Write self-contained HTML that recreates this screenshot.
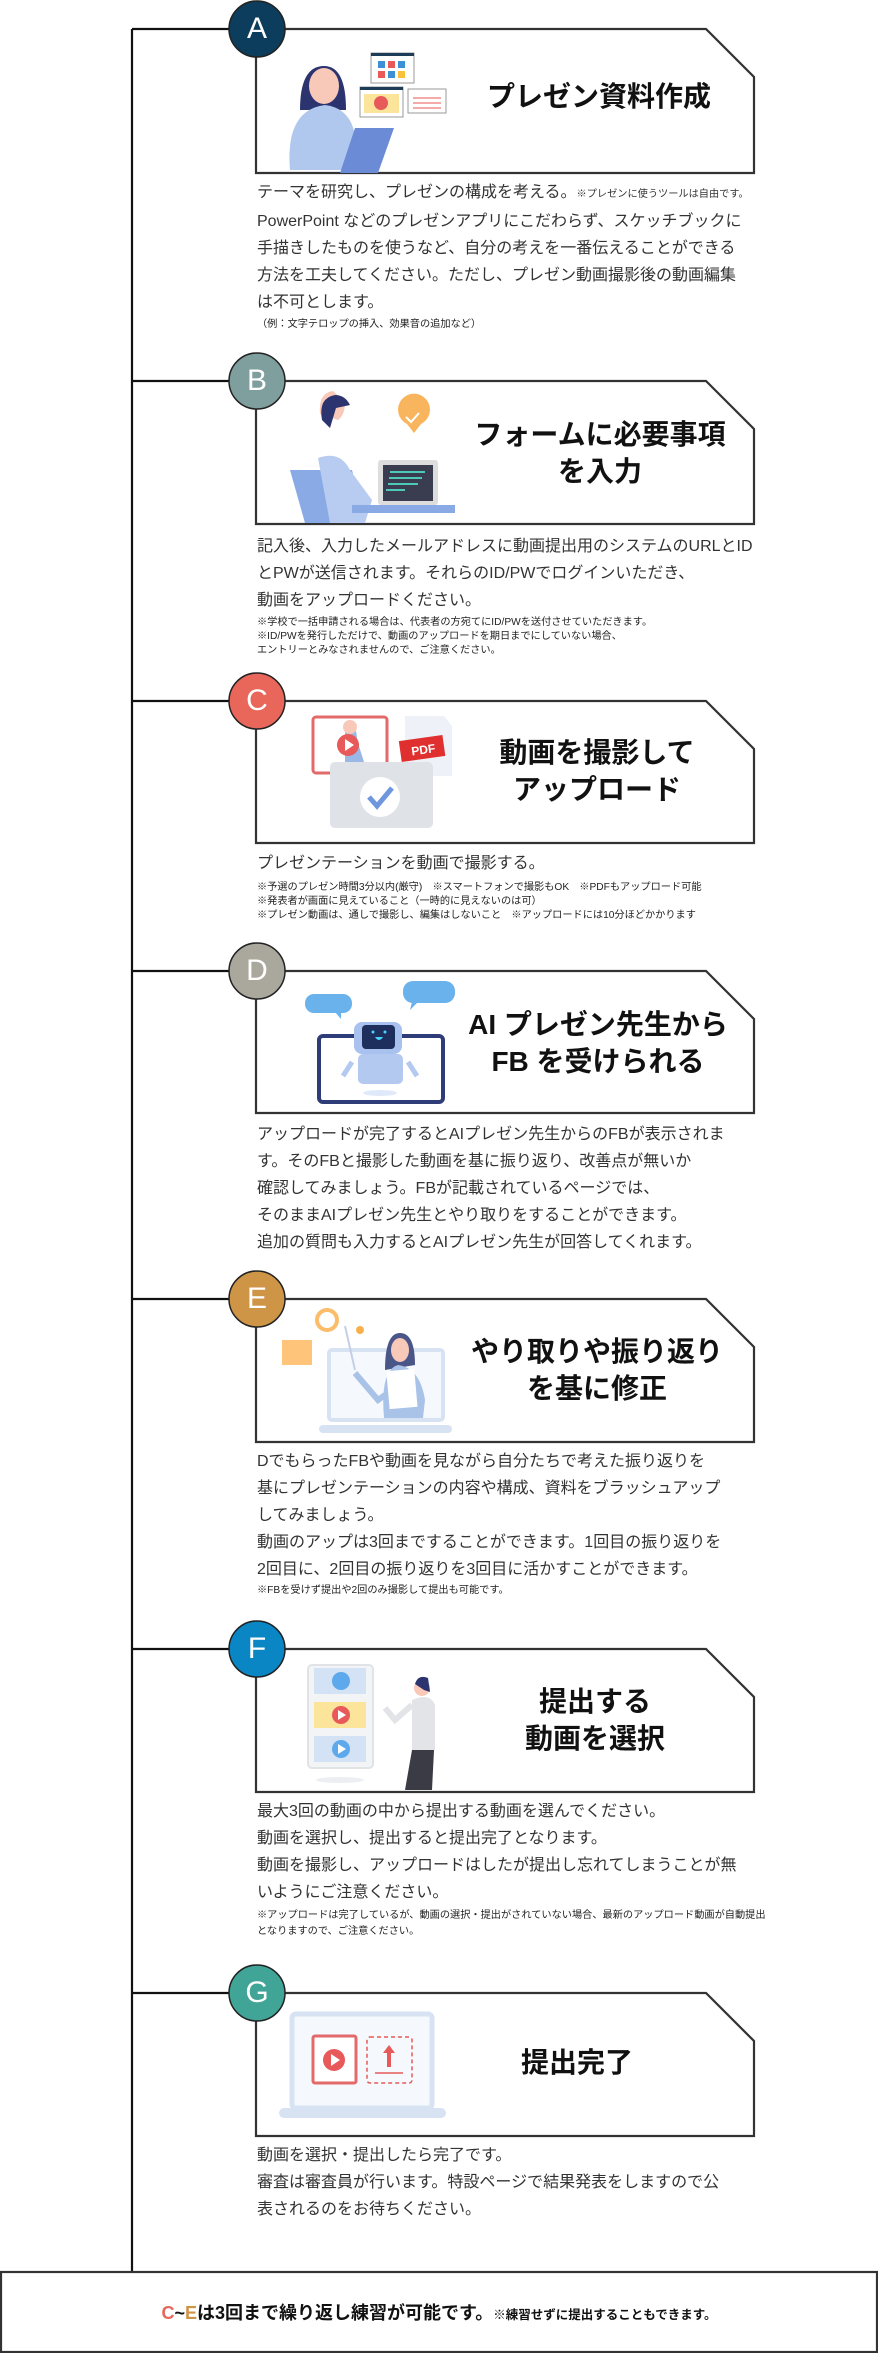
<!DOCTYPE html>
<html><head><meta charset="utf-8">
<style>
html,body{margin:0;padding:0;background:#fff;}
body{width:878px;height:2353px;position:relative;overflow:hidden;font-family:"Liberation Sans","Noto Sans CJK JP",sans-serif;color:#222;}
svg{position:absolute;left:0;top:0;}
.t{position:absolute;white-space:nowrap;font-weight:bold;font-size:28px;line-height:37px;text-align:center;color:#111;width:300px;}
.b{position:absolute;left:257px;white-space:nowrap;font-size:16px;line-height:27px;color:#333;}
.n{position:absolute;left:257px;white-space:nowrap;font-size:10.2px;line-height:14px;color:#222;}
.s{font-size:10.2px;}
.L{position:absolute;width:56px;text-align:center;color:#fff;font-size:30px;line-height:56px;font-weight:normal;}
</style></head><body>
<svg width="878" height="2353" viewBox="0 0 878 2353">
<g fill="none" stroke="#111" stroke-width="2.2">
<line x1="132" y1="29" x2="132" y2="2272"/>
<line x1="132" y1="29" x2="256" y2="29"/>
<line x1="132" y1="381" x2="256" y2="381"/>
<line x1="132" y1="701" x2="256" y2="701"/>
<line x1="132" y1="971" x2="256" y2="971"/>
<line x1="132" y1="1299" x2="256" y2="1299"/>
<line x1="132" y1="1649" x2="256" y2="1649"/>
<line x1="132" y1="1993" x2="256" y2="1993"/>
</g>
<g fill="#fff" stroke="#333" stroke-width="2.2">
<path d="M256,29H706L754,77V173H256Z"/>
<path d="M256,381H706L754,429V524H256Z"/>
<path d="M256,701H706L754,749V843H256Z"/>
<path d="M256,971H706L754,1019V1113H256Z"/>
<path d="M256,1299H706L754,1347V1442H256Z"/>
<path d="M256,1649H706L754,1697V1792H256Z"/>
<path d="M256,1993H706L754,2041V2136H256Z"/>
<rect x="1" y="2272" width="876" height="80"/>
</g>
<g stroke="#222" stroke-width="1.5">
<ellipse cx="257" cy="29" rx="28" ry="28" fill="#0d3d5c"/>
<ellipse cx="257" cy="381" rx="28" ry="28" fill="#7f9e9e"/>
<ellipse cx="257" cy="701" rx="28" ry="28" fill="#e8675a"/>
<ellipse cx="257" cy="971" rx="28" ry="28" fill="#aaa89c"/>
<ellipse cx="257" cy="1299" rx="28" ry="28" fill="#cf9547"/>
<ellipse cx="257" cy="1649" rx="28" ry="28" fill="#0a86c4"/>
<ellipse cx="257" cy="1993" rx="28" ry="28" fill="#40a597"/>
</g>
<g>
<rect x="371" y="53" width="43" height="30" fill="#fff" stroke="#999"/><rect x="371" y="53" width="43" height="3" fill="#1d3c57"/>
<rect x="378" y="61" width="7" height="7" fill="#3d8fd6"/><rect x="388" y="61" width="7" height="7" fill="#e85a5a"/><rect x="398" y="61" width="7" height="7" fill="#3d8fd6"/>
<rect x="378" y="71" width="7" height="7" fill="#e85a5a"/><rect x="388" y="71" width="7" height="7" fill="#3d8fd6"/><rect x="398" y="71" width="7" height="7" fill="#f7c23b"/>
<rect x="360" y="87" width="43" height="30" fill="#fff" stroke="#999"/><rect x="360" y="87" width="43" height="3" fill="#1d3c57"/><rect x="364" y="94" width="35" height="19" fill="#fce59a"/><circle cx="381" cy="103" r="7" fill="#e85a5a"/>
<rect x="408" y="89" width="38" height="24" fill="#fff" stroke="#999"/><rect x="413" y="97" width="28" height="2" fill="#f6a9a9"/><rect x="413" y="102" width="28" height="2" fill="#f6a9a9"/><rect x="413" y="107" width="28" height="2" fill="#f6a9a9"/>
<path d="M300,110 Q300,66 324,66 Q346,66 346,110Z" fill="#2c3470"/>
<ellipse cx="324" cy="86" rx="15" ry="18" fill="#f8c8b8"/>
<path d="M290,170 Q285,110 325,105 Q350,108 355,135 L345,170Z" fill="#b0c8ee"/>
<path d="M355,128 L394,128 L378,173 L340,173Z" fill="#6b8bd6"/>
</g>
<g>
<path d="M407,424 a16,16 0 1,1 14,0 l-7,9z" fill="#f8b55d"/><path d="M406,417 l5,5 l8,-9" stroke="#fff" stroke-width="2" fill="none"/>
<path d="M345,402 Q345,415 338,420 L320,414 Q318,393 333,391Z" fill="#f8c8b8"/>
<path d="M322,420 Q318,398 335,395 Q345,395 350,405 L336,408 L330,428Z" fill="#2c3470"/>
<path d="M290,470 L352,470 L365,523 L305,523Z" fill="#8aaae6"/>
<path d="M318,458 Q340,450 350,470 L372,500 L365,523 L330,523Z" fill="#b8ccf2"/>
<rect x="378" y="460" width="60" height="45" rx="3" fill="#ddd"/><rect x="383" y="465" width="50" height="36" fill="#3a3d4f"/>
<g stroke="#4ec9b7" stroke-width="2"><line x1="390" y1="472" x2="425" y2="472"/><line x1="389" y1="478" x2="422" y2="478"/><line x1="388" y1="484" x2="418" y2="484"/><line x1="386" y1="490" x2="405" y2="490"/></g>
<rect x="352" y="505" width="103" height="8" fill="#8aaae6"/>
</g>
<g>
<rect x="313" y="717" width="74" height="56" rx="3" fill="#fff" stroke="#e36a6a" stroke-width="3"/>
<path d="M405,716 L444,716 L452,726 L452,776 L405,776Z" fill="#eef1f7"/>
<rect x="400" y="738" width="44" height="21" fill="#e02f2f" transform="rotate(-8 422 748)"/>
<text x="411" y="754" font-family="Liberation Sans" font-weight="bold" font-size="12" fill="#fff" transform="rotate(-8 422 748)">PDF</text>
<path d="M345,725 Q357,722 357,740 L365,765 L345,765Z" fill="#9ab8e6"/>
<circle cx="350" cy="727" r="7" fill="#f8c8b8"/>
<circle cx="348" cy="745" r="11" fill="#e85a5a"/><path d="M345,739 L354,745 L345,751Z" fill="#fff"/>
<rect x="330" y="762" width="103" height="66" rx="5" fill="#dfe2e6"/>
<circle cx="380" cy="797" r="20" fill="#fff"/><path d="M369,797 L377,806 L392,788" stroke="#6f97de" stroke-width="5" fill="none"/>
</g>
<g>
<rect x="305" y="994" width="47" height="19" rx="9" fill="#6ab2ec"/><path d="M335,1012 l6,7 l0,-7z" fill="#6ab2ec"/>
<rect x="403" y="981" width="52" height="22" rx="10" fill="#6ab2ec"/><path d="M412,1002 l-2,8 l8,-8z" fill="#6ab2ec"/>
<rect x="319" y="1036" width="124" height="66" rx="4" fill="#fff" stroke="#2e3d78" stroke-width="4"/>
<rect x="354" y="1022" width="48" height="32" rx="8" fill="#a8c1ee"/>
<rect x="362" y="1025" width="33" height="24" rx="4" fill="#1e2f5e"/>
<circle cx="373" cy="1032" r="1.5" fill="#4ad2ff"/><circle cx="385" cy="1032" r="1.5" fill="#4ad2ff"/><path d="M375,1037 q4,6 8,0z" fill="#4ad2ff"/>
<rect x="358" y="1054" width="45" height="30" rx="5" fill="#b4c9f0"/>
<path d="M352,1062 L343,1076 M408,1062 L417,1076" stroke="#b4c9f0" stroke-width="5"/>
<ellipse cx="380" cy="1093" rx="17" ry="3" fill="#e0e9fa"/>
</g>
<g>
<rect x="282" y="1340" width="30" height="25" fill="#fdc47a"/>
<circle cx="327" cy="1320" r="10" fill="none" stroke="#fbbd6a" stroke-width="4"/>
<circle cx="360" cy="1330" r="4" fill="#f8b04a"/>
<rect x="329" y="1350" width="114" height="70" rx="3" fill="#f5f8fd" stroke="#d7e3f2" stroke-width="4"/>
<rect x="319" y="1425" width="133" height="8" rx="4" fill="#d7e3f2"/>
<path d="M345,1326 L355,1370" stroke="#c6cfe8" stroke-width="2"/>
<path d="M385,1370 Q385,1333 400,1333 Q415,1333 415,1365Z" fill="#4b5688"/>
<ellipse cx="400" cy="1350" rx="9" ry="12" fill="#f8c8b8"/>
<path d="M384,1418 Q380,1370 398,1365 Q420,1368 425,1400 L423,1418Z" fill="#a9c2e8"/>
<path d="M355,1373 L378,1400 L385,1395" stroke="#a9c2e8" stroke-width="6" fill="none"/>
<rect x="388" y="1370" width="28" height="38" fill="#fff" transform="rotate(-5 402 1390)"/>
</g>
<g>
<rect x="308" y="1665" width="65" height="103" rx="4" fill="#f3f4f6" stroke="#e1e3e7" stroke-width="2"/>
<rect x="314" y="1668" width="52" height="26" fill="#d3e2f4"/><circle cx="341" cy="1681" r="9" fill="#5ea9ec"/>
<rect x="314" y="1702" width="52" height="26" fill="#fce59a"/><circle cx="341" cy="1715" r="9" fill="#e85a5a"/><path d="M338,1710 L346,1715 L338,1720Z" fill="#fff"/>
<rect x="314" y="1736" width="52" height="26" fill="#d3e2f4"/><circle cx="341" cy="1749" r="9" fill="#5ea9ec"/><path d="M338,1744 L346,1749 L338,1754Z" fill="#fff"/>
<ellipse cx="340" cy="1780" rx="24" ry="3" fill="#eceef2"/>
<circle cx="422" cy="1688" r="8" fill="#f8c8b8"/><path d="M415,1684 Q418,1674 428,1678 L430,1692 L424,1690Z" fill="#2c3470"/>
<path d="M412,1700 Q430,1692 435,1705 L435,1750 L412,1750Z" fill="#e3e4e8"/>
<path d="M412,1705 L395,1720 L385,1708" stroke="#e3e4e8" stroke-width="6" fill="none"/>
<path d="M412,1750 L434,1750 L432,1790 L405,1790Z" fill="#3a3b45"/>
</g>
<g>
<rect x="292" y="2014" width="140" height="94" rx="4" fill="#f5f8fd" stroke="#d7e3f2" stroke-width="5"/>
<rect x="279" y="2108" width="167" height="10" rx="5" fill="#d7e3f2"/>
<rect x="313" y="2036" width="43" height="47" rx="2" fill="#fff" stroke="#e36a6a" stroke-width="3"/>
<circle cx="334" cy="2060" r="11" fill="#e85a5a"/><path d="M331,2054 L340,2060 L331,2066Z" fill="#fff"/>
<rect x="367" y="2037" width="45" height="46" rx="3" fill="none" stroke="#e85a5a" stroke-width="1.5" stroke-dasharray="4 3"/>
<path d="M389,2045 L395,2053 L391,2053 L391,2067 L387,2067 L387,2053 L383,2053Z" fill="#e85a5a"/>
<line x1="375" y1="2073" x2="403" y2="2073" stroke="#e85a5a" stroke-width="1.5"/>
</g>
</svg>

<div class="L" style="left:229px;top:1px">A</div>
<div class="L" style="left:229px;top:353px">B</div>
<div class="L" style="left:229px;top:673px">C</div>
<div class="L" style="left:229px;top:943px">D</div>
<div class="L" style="left:229px;top:1271px">E</div>
<div class="L" style="left:229px;top:1621px">F</div>
<div class="L" style="left:229px;top:1965px">G</div>

<div class="t" style="left:449px;top:78px">プレゼン資料作成</div>
<div class="t" style="left:450px;top:416px">フォームに必要事項<br>を入力</div>
<div class="t" style="left:447px;top:734px">動画を撮影して<br>アップロード</div>
<div class="t" style="left:448px;top:1006px">AI プレゼン先生から<br>FB を受けられる</div>
<div class="t" style="left:447px;top:1333px">やり取りや振り返り<br>を基に修正</div>
<div class="t" style="left:445px;top:1683px">提出する<br>動画を選択</div>
<div class="t" style="left:427px;top:2044px">提出完了</div>

<div class="b" style="top:179px">テーマを研究し、プレゼンの構成を考える。<span class="s">※プレゼンに使うツールは自由です。</span><br>PowerPoint などのプレゼンアプリにこだわらず、スケッチブックに<br>手描きしたものを使うなど、自分の考えを一番伝えることができる<br>方法を工夫してください。ただし、プレゼン動画撮影後の動画編集<br>は不可とします。</div>
<div class="n" style="top:318px">（例：文字テロップの挿入、効果音の追加など）</div>

<div class="b" style="top:533px">記入後、入力したメールアドレスに動画提出用のシステムのURLとID<br>とPWが送信されます。それらのID/PWでログインいただき、<br>動画をアップロードください。</div>
<div class="n" style="top:616px">※学校で一括申請される場合は、代表者の方宛てにID/PWを送付させていただきます。<br>※ID/PWを発行しただけで、動画のアップロードを期日までにしていない場合、<br>エントリーとみなされませんので、ご注意ください。</div>

<div class="b" style="top:850px">プレゼンテーションを動画で撮影する。</div>
<div class="n" style="top:881px">※予選のプレゼン時間3分以内(厳守)　※スマートフォンで撮影もOK　※PDFもアップロード可能<br>※発表者が画面に見えていること（一時的に見えないのは可）<br>※プレゼン動画は、通しで撮影し、編集はしないこと　※アップロードには10分ほどかかります</div>

<div class="b" style="top:1121px">アップロードが完了するとAIプレゼン先生からのFBが表示されま<br>す。そのFBと撮影した動画を基に振り返り、改善点が無いか<br>確認してみましょう。FBが記載されているページでは、<br>そのままAIプレゼン先生とやり取りをすることができます。<br>追加の質問も入力するとAIプレゼン先生が回答してくれます。</div>

<div class="b" style="top:1448px">DでもらったFBや動画を見ながら自分たちで考えた振り返りを<br>基にプレゼンテーションの内容や構成、資料をブラッシュアップ<br>してみましょう。<br>動画のアップは3回まですることができます。1回目の振り返りを<br>2回目に、2回目の振り返りを3回目に活かすことができます。</div>
<div class="n" style="top:1584px">※FBを受けず提出や2回のみ撮影して提出も可能です。</div>

<div class="b" style="top:1798px">最大3回の動画の中から提出する動画を選んでください。<br>動画を選択し、提出すると提出完了となります。<br>動画を撮影し、アップロードはしたが提出し忘れてしまうことが無<br>いようにご注意ください。</div>
<div class="n" style="top:1908px;line-height:16px">※アップロードは完了しているが、動画の選択・提出がされていない場合、最新のアップロード動画が自動提出<br>となりますので、ご注意ください。</div>

<div class="b" style="top:2142px">動画を選択・提出したら完了です。<br>審査は審査員が行います。特設ページで結果発表をしますので公<br>表されるのをお待ちください。</div>

<div style="position:absolute;left:0;width:878px;top:2300px;text-align:center;white-space:nowrap;font-weight:bold;font-size:18px;line-height:26px;color:#111;"><span style="color:#e8675a">C</span>~<span style="color:#cf9547">E</span>は3回まで繰り返し練習が可能です。<span style="font-size:12.5px">※練習せずに提出することもできます。</span></div>
</body></html>
